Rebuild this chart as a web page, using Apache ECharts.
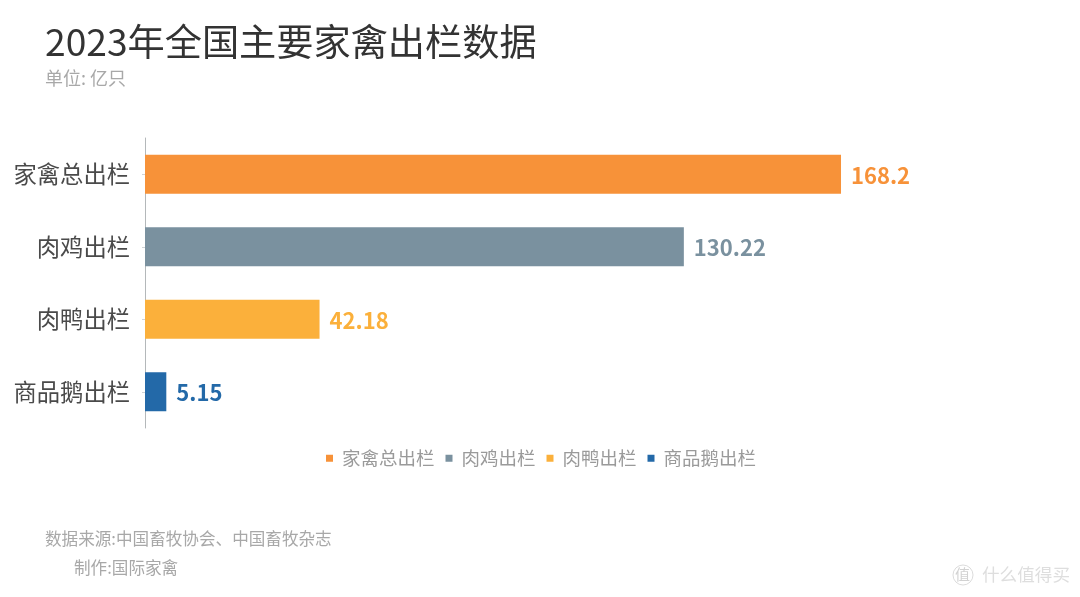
<!DOCTYPE html>
<html lang="zh">
<head>
<meta charset="utf-8">
<title>2023年全国主要家禽出栏数据</title>
<style>
  html, body { margin: 0; padding: 0; background: #fff; }
  #chart { width: 1080px; height: 597px; }
</style>
<script src="https://cdn.jsdelivr.net/npm/echarts@6/dist/echarts.min.js"></script>
</head>
<body>
<div id="chart"></div>
<script>
// 2023 national poultry slaughter figures, in 100 million birds
const categories = ['家禽总出栏', '肉鸡出栏', '肉鸭出栏', '商品鹅出栏'];
const outputValues = [168.2, 130.22, 42.18, 5.15];
const valueLabels = ['168.2', '130.22', '42.18', '5.15'];
const barColors = ['#F79239', '#7A919F', '#FBB03B', '#2369A8'];

const FONT = '"Noto Sans CJK SC", "Noto Sans", sans-serif';

// One stacked series per category so that each gets its own legend entry
const series = categories.map((name, i) => ({
  name,
  type: 'bar',
  stack: 'output',
  barWidth: 39,
  itemStyle: { color: barColors[i] },
  data: categories.map((_, j) => (j === i ? outputValues[i] : '-')),
  label: {
    show: true,
    position: 'right',
    distance: 10,
    offset: [0, 1],
    formatter: () => valueLabels[i],
    color: barColors[i],
    fontFamily: FONT,
    fontSize: 22,
    fontWeight: 'bold'
  }
}));

const textBlock = (x, y, text, fontSize, fill) => ({
  type: 'text',
  left: x,
  top: y,
  silent: true,
  style: { text, fontFamily: FONT, fontSize, fill }
});

const chart = echarts.init(document.getElementById('chart'), null, { renderer: 'canvas' });
chart.setOption({
  animation: false,
  backgroundColor: '#fff',
  grid: { left: 145, top: 138, width: 827.6, height: 290, containLabel: false },
  xAxis: { type: 'value', min: 0, max: 200, show: false },
  yAxis: {
    type: 'category',
    inverse: true,
    data: categories,
    axisLine: { show: true, lineStyle: { color: '#b4b8ba', width: 1 } },
    axisTick: { show: true, length: 3, alignWithLabel: true, lineStyle: { color: '#d0d3d5' } },
    axisLabel: { margin: 15, color: '#4a4a4a', fontFamily: FONT, fontSize: 23.3, padding: [5, 0, 0, 0] }
  },
  legend: {
    left: 321,
    top: 444,
    icon: 'rect',
    itemWidth: 7,
    itemHeight: 7,
    itemGap: 11,
    textStyle: { color: '#9a9a9a', fontFamily: FONT, fontSize: 18.5, padding: [0, 0, 0, 4] },
    data: categories
  },
  series,
  graphic: [
    textBlock(45, 23, '2023年全国主要家禽出栏数据', 37.2, '#333333'),
    textBlock(45, 69, '单位: 亿只', 18, '#a8a8a8'),
    textBlock(45, 530, '数据来源:中国畜牧协会、中国畜牧杂志', 16.6, '#a8a8a8'),
    textBlock(74, 559, '制作:国际家禽', 16.6, '#a8a8a8'),
    {
      type: 'circle',
      silent: true,
      shape: { cx: 963, cy: 575, r: 10 },
      style: { fill: 'none', stroke: '#dcdcdc', lineWidth: 1 }
    },
    textBlock(955, 567, '值', 15, '#d2d2d2'),
    textBlock(982, 566, '什么值得买', 17.6, '#dedede')
  ]
});
</script>
</body>
</html>
